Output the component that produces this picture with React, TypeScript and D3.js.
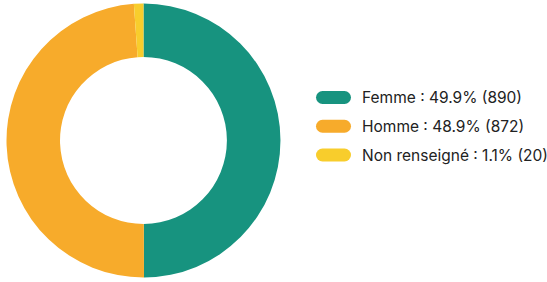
import React from "react";
import * as d3 from "d3";

const categories = ["Femme", "Homme", "Non renseigné"];
const counts = [890, 872, 20];
const percents = ["49.9%", "48.9%", "1.1%"];
const colors = ["#17937f", "#f7ab2b", "#f8cd2c"];

export default function App() {
  const W = 547, H = 282;
  const cx = 143.5, cy = 140.5, ro = 137, ri = 83.5;
  const pie = d3.pie<number>().sort(null).value((d) => d)(counts);
  const arc = d3.arc<d3.PieArcDatum<number>>().innerRadius(ri).outerRadius(ro);
  const legendY = d3.scalePoint<string>().domain(categories).range([97.5, 155]);
  return (
    <svg width={W} height={H} style={{ position: "absolute", left: 0, top: 0 }}>
      <rect width={W} height={H} fill="#fff" />
      <g transform={`translate(${cx},${cy})`}>
        {pie.map((p, i) => (
          <path key={i} d={arc(p) || ""} fill={colors[i]} />
        ))}
      </g>
      {categories.map((c, i) => (
        <g key={c} transform={`translate(316,${legendY(c)})`}>
          <rect x={0} y={-6.5} width={35} height={13} rx={6.5} fill={colors[i]} />
          <text x={46} y={0} dy="0.36em" fontFamily="Inter, 'Noto Sans', sans-serif" fontSize={15.5} fontWeight={400} fill="#222">
            {`${c} : ${percents[i]} (${counts[i]})`}
          </text>
        </g>
      ))}
    </svg>
  );
}
